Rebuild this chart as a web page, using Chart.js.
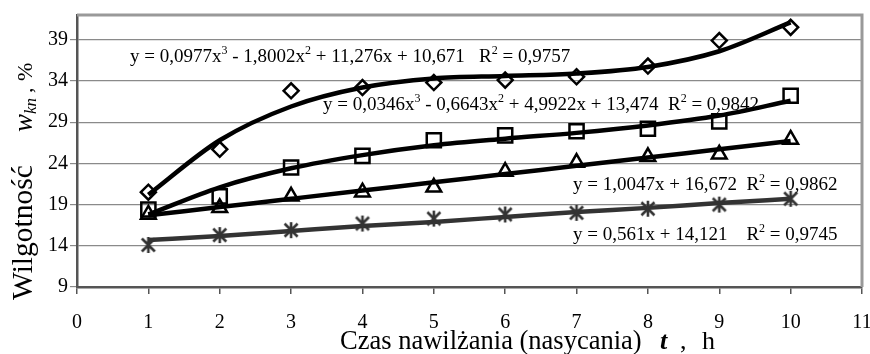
<!DOCTYPE html>
<html>
<head>
<meta charset="utf-8">
<script src="https://cdn.jsdelivr.net/npm/chart.js@4"></script>
<style>
  html, body { margin: 0; padding: 0; background: #fff; }
  #wrap { width: 870px; height: 354px; position: relative; }
</style>
</head>
<body>
<div id="wrap"><canvas id="c" width="870" height="354"></canvas></div>
<script>
// ---- data ----
const xValues = [1, 2, 3, 4, 5, 6, 7, 8, 9, 10];
const seriesDiamond  = [20.5, 25.7, 32.8, 33.2, 33.8, 34.1, 34.5, 35.8, 38.9, 40.5];
const seriesSquare   = [18.4, 20.0, 23.5, 24.9, 26.8, 27.4, 27.9, 28.2, 29.1, 32.2];
const seriesTriangle = [17.8, 18.6, 20.0, 20.5, 21.1, 23.0, 24.1, 24.8, 25.1, 26.9];
const seriesStar     = [14.1, 15.3, 15.9, 16.7, 17.3, 17.8, 18.0, 18.5, 19.0, 19.7];
// trend lines as read at each x
const trendDiamond  = [20.2, 26.8, 30.9, 33.2, 34.3, 34.6, 34.9, 35.7, 37.6, 41.1];
const trendSquare   = [17.8, 21.1, 23.4, 25.0, 26.2, 27.0, 27.7, 28.6, 29.8, 31.6];
const trendTriangle = [17.7, 18.7, 19.7, 20.7, 21.7, 22.7, 23.7, 24.7, 25.7, 26.7];
const trendStar     = [14.7, 15.2, 15.8, 16.4, 16.9, 17.5, 18.1, 18.6, 19.2, 19.7];
const yTicks = [9, 14, 19, 24, 29, 34, 39];
const xTicks = [0, 1, 2, 3, 4, 5, 6, 7, 8, 9, 10, 11];
const eqDiamond  = [["y = 0,0977x"], ["3", "sup"], [" - 1,8002x"], ["2", "sup"], [" + 11,276x + 10,671   R"], ["2", "sup"], [" = 0,9757"]];
const eqSquare   = [["y = 0,0346x"], ["3", "sup"], [" - 0,6643x"], ["2", "sup"], [" + 4,9922x + 13,474  R"], ["2", "sup"], [" = 0,9842"]];
const eqTriangle = [["y = 1,0047x + 16,672  R"], ["2", "sup"], [" = 0,9862"]];
const eqStar     = [["y = 0,561x + 14,121    R"], ["2", "sup"], [" = 0,9745"]];
const yTitleMain = "Wilgotność";
const xTitleMain = "Czas nawilżania (nasycania)";

const pts = arr => arr.map((v, i) => ({ x: xValues[i], y: v }));
const SERIF = "'Liberation Serif', 'Times New Roman', serif";
const DARK = '#333333';

// star (asterisk) marker
function makeStar(color) {
  const c = document.createElement('canvas');
  c.width = 18; c.height = 18;
  const g = c.getContext('2d');
  g.strokeStyle = color; g.lineWidth = 2.6; g.lineCap = 'butt';
  g.beginPath();
  g.moveTo(2.5, 2.5); g.lineTo(15.5, 15.5);
  g.moveTo(15.5, 2.5); g.lineTo(2.5, 15.5);
  g.moveTo(9, 1); g.lineTo(9, 17);
  g.stroke();
  return c;
}
const starImg = makeStar(DARK);

function trendDs(arr, color) {
  return { data: pts(arr), borderColor: color, borderWidth: 4.5, pointRadius: 0,
           cubicInterpolationMode: 'monotone', fill: false, order: 2 };
}
function markDs(arr, style, r, color) {
  return { data: pts(arr), showLine: false, pointStyle: style, pointRadius: r,
           pointBorderWidth: 2.5, pointBorderColor: color, pointBackgroundColor: 'rgba(0,0,0,0)',
           order: 1 };
}

function drawRich(ctx, x, y, parts, size) {
  let cx = x;
  for (const p of parts) {
    const t = p[0], k = p[1];
    if (k === 'sup') {
      ctx.font = Math.round(size * 0.62) + 'px ' + SERIF;
      ctx.fillText(t, cx, y - size * 0.42);
    } else {
      ctx.font = size + 'px ' + SERIF;
      ctx.fillText(t, cx, y);
    }
    cx += ctx.measureText(t).width;
  }
}

const textPlugin = {
  id: 'texts',
  afterDraw(chart) {
    const ctx = chart.ctx, a = chart.chartArea;
    ctx.save();
    // plot border (top / right)
    ctx.strokeStyle = '#999999'; ctx.lineWidth = 3;
    ctx.beginPath();
    ctx.moveTo(a.left, a.top); ctx.lineTo(a.right, a.top); ctx.lineTo(a.right, a.bottom);
    ctx.stroke();
    ctx.fillStyle = '#000'; ctx.textAlign = 'left'; ctx.textBaseline = 'alphabetic';
    drawRich(ctx, 130, 62, eqDiamond, 19);
    drawRich(ctx, 323, 110, eqSquare, 19);
    drawRich(ctx, 573, 190, eqTriangle, 19);
    drawRich(ctx, 573, 240, eqStar, 19);
    // x title
    ctx.font = '26.5px ' + SERIF;
    ctx.fillText(xTitleMain, 340, 349);
    ctx.font = 'italic bold 26px ' + SERIF;
    ctx.fillText('t', 660, 349);
    ctx.font = '26px ' + SERIF;
    ctx.fillText(',', 680, 349);
    ctx.fillText('h', 702, 349);
    // y title (rotated)
    ctx.translate(32, 300);
    ctx.rotate(-Math.PI / 2);
    ctx.font = '29.5px ' + SERIF;
    ctx.fillText(yTitleMain, 0, 0);
    ctx.font = 'italic 27px ' + SERIF;
    ctx.fillText('w', 168, 0);
    ctx.font = 'italic 17px ' + SERIF;
    ctx.fillText('kn', 186, 4);
    ctx.font = '22px ' + SERIF;
    ctx.fillText(',', 207, 0);
    ctx.fillText('%', 219, 0);
    ctx.restore();
  }
};

new Chart(document.getElementById('c'), {
  type: 'line',
  data: {
    datasets: [
      trendDs(trendDiamond, '#000'),
      trendDs(trendSquare, '#000'),
      trendDs(trendTriangle, '#000'),
      trendDs(trendStar, DARK),
      markDs(seriesDiamond, 'rectRot', 7.5, '#000'),
      markDs(seriesSquare, 'rect', 10, '#000'),
      markDs(seriesTriangle, 'triangle', 8.5, '#000'),
      markDs(seriesStar, starImg, 9, DARK)
    ]
  },
  options: {
    responsive: false,
    animation: false,
    events: [],
    layout: { autoPadding: false, padding: { top: 15, right: 8, left: 0, bottom: 0 } },
    plugins: { legend: { display: false }, tooltip: { enabled: false } },
    scales: {
      x: {
        type: 'linear', min: 0, max: 11,
        afterBuildTicks: s => { s.ticks = xTicks.map(v => ({ value: v })); },
        afterFit: s => { s.height = 67; s.paddingLeft = 0; s.paddingRight = 0; },
        grid: { drawOnChartArea: false, drawTicks: true, tickLength: 7, color: '#555', lineWidth: 1.5 },
        border: { color: '#555', width: 2.5 },
        ticks: { color: '#000', font: { family: SERIF, size: 20 }, padding: 17, maxRotation: 0, autoSkip: false }
      },
      y: {
        type: 'linear', min: 9, max: 42,
        afterBuildTicks: s => { s.ticks = yTicks.map(v => ({ value: v })); },
        afterFit: s => { s.width = 77; s.paddingTop = 0; s.paddingBottom = 0; },
        grid: { drawOnChartArea: true, drawTicks: true, tickLength: 7, color: '#8a8a8a', lineWidth: 1.2 },
        border: { color: '#555', width: 2.5 },
        ticks: { color: '#000', font: { family: SERIF, size: 20 }, padding: 2 }
      }
    }
  },
  plugins: [textPlugin]
});
</script>
</body>
</html>
